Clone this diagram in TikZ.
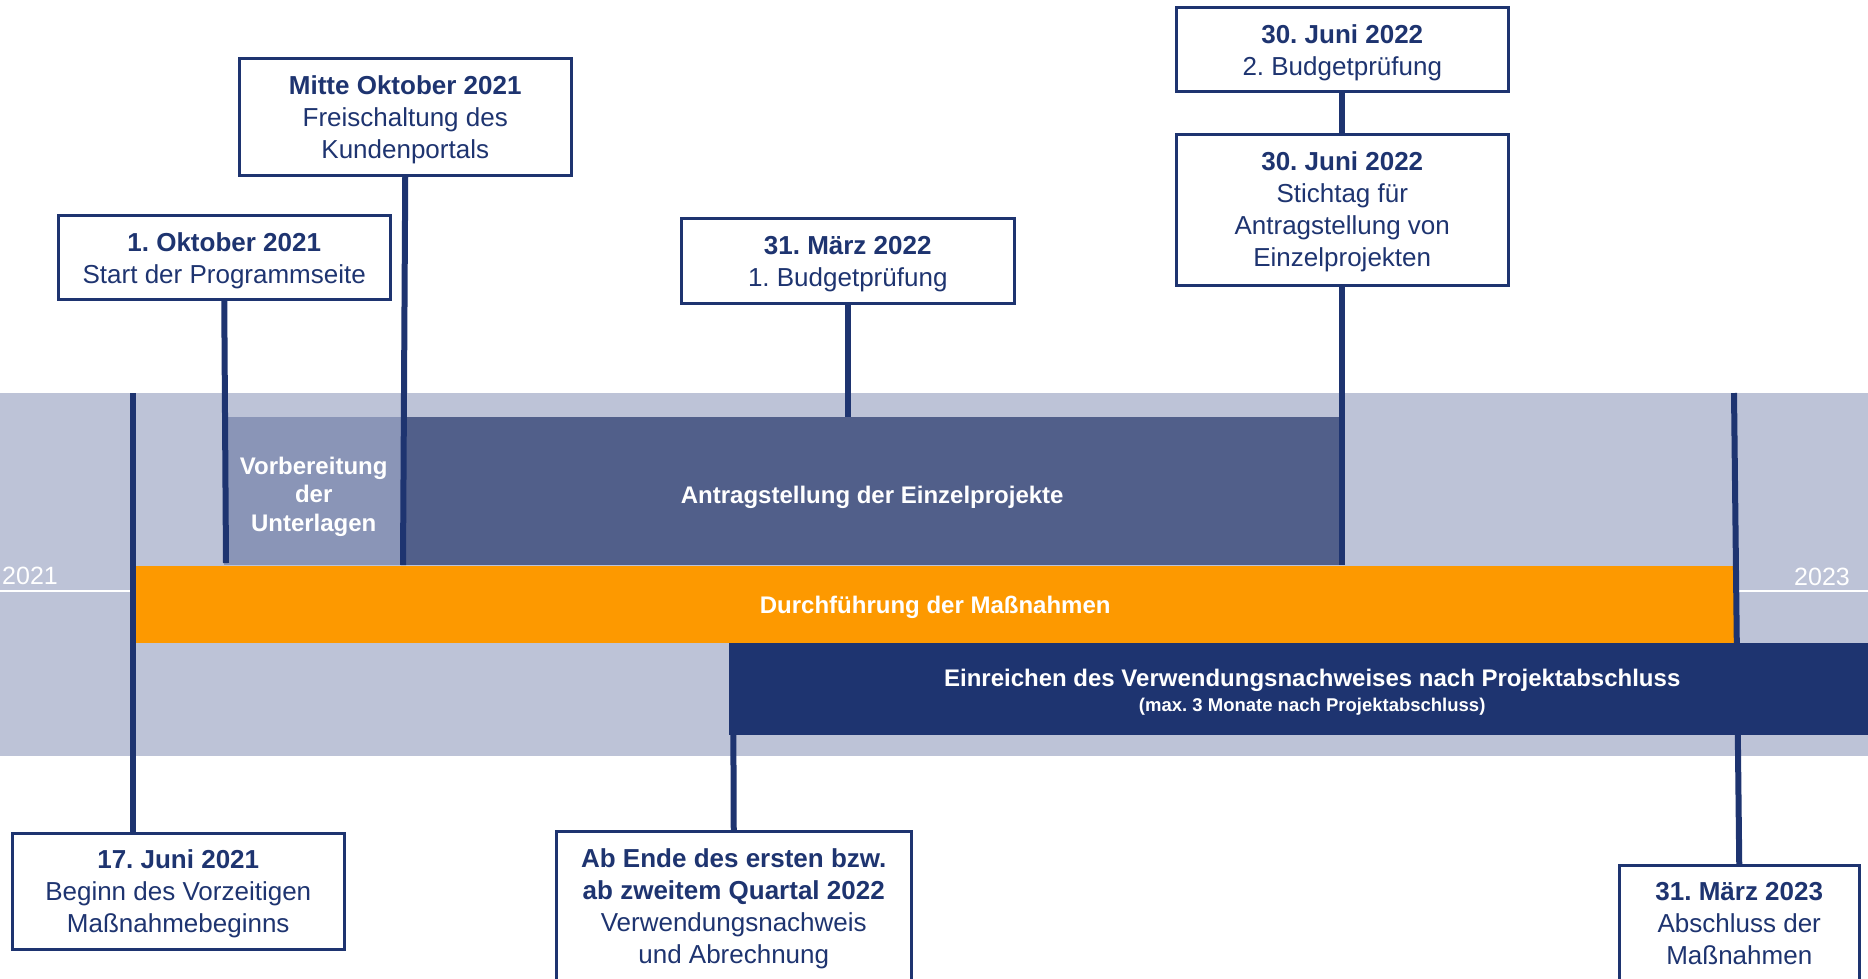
\documentclass[tikz,border=0pt]{standalone}
\usepackage{fontspec}
\setmainfont{Liberation Sans}
\definecolor{navy}{HTML}{1E3470}
\definecolor{bandlight}{HTML}{BDC3D7}
\definecolor{prep}{HTML}{8A95B7}
\definecolor{antrag}{HTML}{515F8A}
\definecolor{orangebar}{HTML}{FD9900}
\newcommand{\datetext}[2]{\begin{tabular}[t]{@{}c@{}}\textbf{#1}\\#2\end{tabular}}
\frenchspacing
\begin{document}
\begin{tikzpicture}[x=1pt,y=-1pt,
  conn/.style={draw=navy,line width=6pt},
  datebox/.style={draw=navy,line width=2.5pt,fill=white,inner sep=0pt,anchor=north west,text=navy,font=\fontsize{26}{32}\selectfont,text height=36pt},
  bar/.style={inner sep=0pt,anchor=north west,text=white,font=\bfseries\fontsize{24}{28.5}\selectfont},
  yeartext/.style={text=white,inner sep=0pt,font=\fontsize{25}{30}\selectfont},
  yearline/.style={draw=white,line width=1.5pt}
]
\useasboundingbox (0,0) rectangle (1868,978);
\begin{scope}
\clip (0,0) rectangle (1868,978);
% background band
\fill[bandlight] (0,393) rectangle (1868,756);
% bars
\node[bar,fill=prep,minimum width=179pt,text height=57pt,text depth=91pt] (prep) at (224,417)
  {\begin{tabular}[t]{@{}c@{}}Vorbereitung\\der\\Unterlagen\end{tabular}};
\node[bar,fill=antrag,minimum width=938pt,text height=86pt,text depth=62pt] (antr) at (403,417)
  {Antragstellung der Einzelprojekte};
\node[bar,fill=orangebar,minimum width=1604pt,text height=47pt,text depth=30pt] (durch) at (133,566)
  {Durchführung der Maßnahmen};
% years
\draw[yearline] (0,591) -- (133,591);
\draw[yearline] (1737,591) -- (1868,591);
\node[yeartext,anchor=base west] (y21) at (2,584) {2021};
\node[yeartext,anchor=base east] (y23) at (1850,585) {2023};
% date boxes
\node[datebox,minimum width=332pt,text depth=48pt] (b1) at (57,214)
  {\datetext{1. Oktober 2021}{Start der Programmseite}};
\node[datebox,minimum width=332pt,text depth=81pt] (b2) at (238,57)
  {\datetext{Mitte Oktober 2021}{Freischaltung des\\Kundenportals}};
\node[datebox,minimum width=333pt,text depth=49pt] (b3) at (680,217)
  {\datetext{31. März 2022}{1. Budgetprüfung}};
\node[datebox,minimum width=332pt,text depth=48pt] (b4) at (1175,6)
  {\datetext{30. Juni 2022}{2. Budgetprüfung}};
\node[datebox,minimum width=332pt,text depth=115pt] (b5) at (1175,133)
  {\datetext{30. Juni 2022}{Stichtag für\\Antragstellung von\\Einzelprojekten}};
\node[datebox,minimum width=332pt,text height=35pt,text depth=81pt] (b6) at (11,832)
  {\datetext{17. Juni 2021}{Beginn des Vorzeitigen\\Maßnahmebeginns}};
\node[datebox,minimum width=355pt,text depth=116pt] (b7) at (555,830)
  {\begin{tabular}[t]{@{}c@{}}\textbf{Ab Ende des ersten bzw.}\\\textbf{ab zweitem Quartal 2022}\\Verwendungsnachweis\\und Abrechnung\end{tabular}};
\node[datebox,minimum width=240pt,text height=35pt,text depth=82pt] (b8) at (1618,864)
  {\datetext{31. März 2023}{Abschluss der\\Maßnahmen}};
% connectors
\coordinate (aTop) at (133,393);
\draw[conn] (aTop) -- (aTop |- b6.north);
\coordinate (bEnd) at (226,563);
\draw[conn] (b1.south) -- (bEnd);
\coordinate (cEnd) at (403,565);
\draw[conn] (b2.south) -- (cEnd);
\draw[conn] (b3.south) -- (b3.south |- antr.north);
\draw[conn] (b4.south) -- (b5.north);
\draw[conn] (b5.south) -- (b5.south |- antr.south);
\coordinate (fTop) at (733,643);
\draw[conn] (fTop) -- (b7.north);
\coordinate (gTop) at (1734,393);
\draw[conn] (gTop) -- (b8.north);
% dark band
\node[bar,fill=navy,minimum width=1166pt,text height=43pt,text depth=49pt,font=\bfseries\fontsize{24}{25}\selectfont] (einr) at (729,643)
  {\begin{tabular}[t]{@{}c@{}}Einreichen des Verwendungsnachweises nach Projektabschluss\\{\fontsize{18.5}{25}\selectfont(max. 3 Monate nach Projektabschluss)}\end{tabular}};
\end{scope}
\end{tikzpicture}
\end{document}
